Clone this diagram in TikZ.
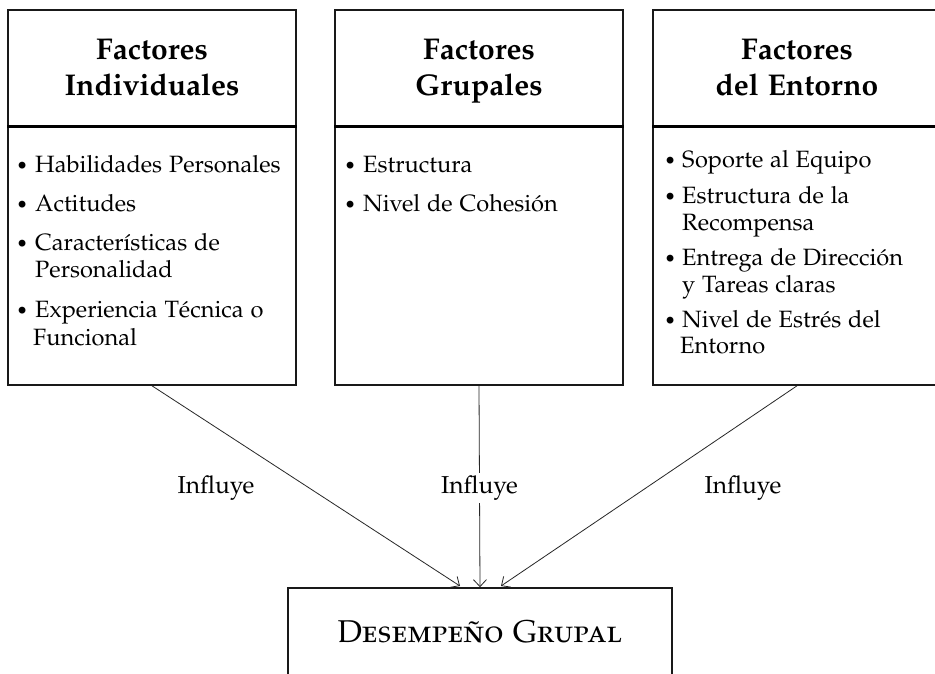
\documentclass[tikz,border=0pt]{standalone}
\usepackage[T1]{fontenc}
\usepackage[sc]{mathpazo}
\usetikzlibrary{arrows.meta}
\begin{document}
\begin{tikzpicture}[x=1pt,y=-1pt,
  box/.style={draw=black!90, line width=1.6pt, minimum width=288pt, minimum height=375pt, inner sep=0pt},
  divider/.style={line width=3pt, draw=black},
  title/.style={font=\fontsize{30}{37}\selectfont\bfseries, anchor=base, inner sep=0pt},
  bul/.style={font=\fontsize{20}{27}\selectfont, anchor=base west, inner sep=0pt},
  itm/.style={font=\fontsize{23.6}{27}\selectfont, anchor=base west, inner sep=0pt},
  arr/.style={draw=black!85, line width=0.8pt, -{Straight Barb[length=7pt,width=13pt]}},
  lbl/.style={font=\fontsize{24.5}{28}\selectfont, inner sep=3pt, anchor=base}
]
\useasboundingbox (0,0) rectangle (935,673);
\fill[white] (0,0) rectangle (935,673);
\clip (0,0) rectangle (935,673);

% boxes
\node[box] (b1) at (152,197.5) {};
\node[box] (b2) at (479,197.5) {};
\node[box] (b3) at (797,197.5) {};
\draw[divider] (b1.west |- 0,126) -- (b1.east |- 0,126);
\draw[divider] (b2.west |- 0,126) -- (b2.east |- 0,126);
\draw[divider] (b3.west |- 0,126) -- (b3.east |- 0,126);

% titles
\node[title] (t1a) at (152,59) {Factores};
\node[title] (t1b) at (152,95) {Individuales};
\node[title] (t2a) at (479,59) {Factores};
\node[title] (t2b) at (479,95) {Grupales};
\node[title] (t3a) at (797,59) {Factores};
\node[title] (t3b) at (797,95) {del Entorno};

% items box 1
\node[bul] (p11) at (16,172) {\textbullet};
\node[itm] (i11) at (35,172) {Habilidades Personales};
\node[bul] (p12) at (16,211) {\textbullet};
\node[itm] (i12) at (35,211) {Actitudes};
\node[bul] (p13) at (16,250) {\textbullet};
\node[itm] (i13) at (35,250) {Caracter\'isticas de};
\node[itm] (i13b) at (35,277) {Personalidad};
\node[bul] (p14) at (16,317) {\textbullet};
\node[itm] (i14) at (35,317) {Experiencia T\'ecnica o};
\node[itm] (i14b) at (33,345) {Funcional};

% items box 2
\node[bul] (p21) at (344,172) {\textbullet};
\node[itm] (i21) at (363,172) {Estructura};
\node[bul] (p22) at (344,211) {\textbullet};
\node[itm] (i22) at (363,211) {Nivel de Cohesi\'on};

% items box 3
\node[bul] (p31) at (664,167) {\textbullet};
\node[itm] (i31) at (682,167) {Soporte al Equipo};
\node[bul] (p32) at (664,203) {\textbullet};
\node[itm] (i32) at (682,203) {Estructura de la};
\node[itm] (i32b) at (682,230) {Recompensa};
\node[bul] (p33) at (664,265) {\textbullet};
\node[itm] (i33) at (682,265) {Entrega de Direcci\'on};
\node[itm] (i33b) at (682,292) {y Tareas claras};
\node[bul] (p34) at (664,327) {\textbullet};
\node[itm] (i34) at (682,327) {Nivel de Estr\'es del};
\node[itm] (i34b) at (680,353) {Entorno};

% bottom box
\node[draw=black!90, line width=1.6pt, minimum width=384pt, minimum height=120pt, inner sep=0pt] (bot) at (480,648) {};
\node[font=\fontsize{31.5}{36}\selectfont, anchor=base, inner sep=0pt] (dg) at (480,642) {\textsc{Desempe\~no Grupal}};

% connectors
\coordinate (e1) at (460,586);
\coordinate (e3) at (501,586);
\draw[arr] (b1.south) -- (e1);
\draw[arr] (b2.south) -- (bot.north) node[lbl, fill=white, pos=0.5, yshift=-7pt] (l2) {Influye};
\draw[arr] (b3.south) -- (e3);
\node[lbl] (l1) at (216,493) {Influye};
\node[lbl] (l3) at (743,493) {Influye};
\end{tikzpicture}
\end{document}
